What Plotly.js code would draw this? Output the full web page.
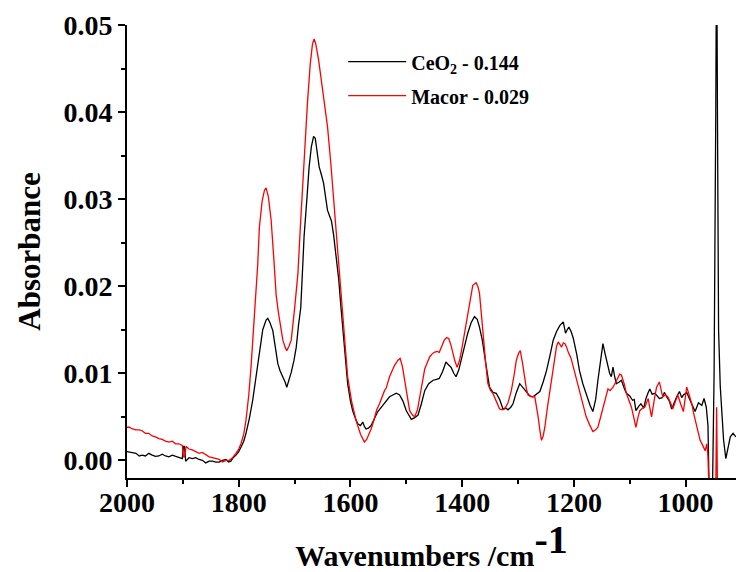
<!DOCTYPE html>
<html>
<head>
<meta charset="utf-8">
<script src="https://cdn.plot.ly/plotly-3.0.1.min.js"></script>
<style>html,body{margin:0;padding:0;background:#fff;}#chart{width:736px;height:572px;}</style>
</head>
<body>
<div id="chart"></div>
<script>
// CeO2 - 0.144 (black)
const ceo2Wn = [2000,1996,1990,1984,1978,1973,1967,1961,1955,1949,1943,1937,1931,1925,1919,1913,1907,1901,1899,1897,1895,1889,1883,1877,1871,1865,1859,1853,1847,1841,1835,1829,1823,1818,1814,1810,1805,1800,1796,1791,1787,1781,1775,1769,1763,1757,1751,1748,1744,1739,1734,1730,1726,1721,1717,1714,1710,1706,1701,1697,1693,1689,1686,1683,1678,1674,1670,1666,1663,1660,1656,1652,1648,1644,1641,1637,1634,1630,1626,1621,1617,1612,1605,1600,1596,1591,1587,1582,1578,1575,1572,1568,1563,1557,1551,1546,1542,1536,1530,1524,1518,1512,1506,1500,1494,1491,1485,1479,1473,1467,1460,1452,1446,1441,1435,1429,1425,1420,1415,1411,1406,1402,1396,1390,1384,1378,1373,1369,1364,1360,1355,1351,1345,1339,1333,1327,1322,1318,1313,1309,1303,1297,1291,1285,1279,1273,1267,1261,1255,1249,1243,1237,1231,1225,1219,1215,1212,1209,1205,1201,1195,1190,1184,1177,1171,1166,1161,1157,1152,1148,1144,1139,1136,1133,1130,1127,1124,1119,1115,1110,1106,1100,1095,1092,1089,1084,1080,1075,1071,1067,1064,1060,1055,1051,1047,1042,1038,1034,1029,1025,1020,1016,1011,1007,1004,998,992,987,983,977,971,967,963,960,958,952,949,946,944.5,943,941,938,935,932,928,924,920,915,912,910];
const ceo2Abs = [0.0010,0.00095,0.0009,0.0008,0.0005,0.0006,0.0005,0.0008,0.0006,0.00046,0.0005,0.0007,0.0005,0.0004,0.0006,0.00046,0.0004,0.0002,0.0016,0.0016,-0.0001,0.0003,0.0002,0.0003,0.0001,0.0,-0.0003,-0.0001,-0.0001,-0.0002,-0.0002,0.0,0.0001,-0.0002,-0.0001,0.0003,0.0006,0.0010,0.0015,0.0022,0.0031,0.0048,0.0069,0.0098,0.0126,0.0150,0.0161,0.0163,0.0158,0.0149,0.0128,0.0111,0.0103,0.0096,0.0090,0.0084,0.0092,0.0101,0.0115,0.0130,0.0155,0.0175,0.0215,0.0257,0.0300,0.0337,0.0360,0.0372,0.0370,0.0355,0.0337,0.0328,0.0318,0.0300,0.0287,0.0280,0.0275,0.0258,0.0238,0.0208,0.0176,0.0135,0.0088,0.0068,0.0057,0.0048,0.0042,0.0040,0.0044,0.0039,0.0036,0.0037,0.0040,0.0048,0.0056,0.0060,0.0063,0.0068,0.0073,0.0075,0.0077,0.0075,0.0068,0.0057,0.0050,0.0047,0.0049,0.0052,0.0065,0.0080,0.0088,0.0092,0.0093,0.0094,0.0102,0.0113,0.0110,0.0107,0.0100,0.0096,0.0104,0.0115,0.0130,0.0146,0.0158,0.0165,0.0162,0.0153,0.0138,0.0119,0.0100,0.0084,0.0078,0.0077,0.0070,0.0059,0.0060,0.0058,0.0061,0.0065,0.0078,0.0088,0.0083,0.0079,0.0074,0.0073,0.0076,0.0079,0.0090,0.0103,0.0120,0.0138,0.0148,0.0155,0.0159,0.0146,0.0150,0.0153,0.0148,0.0140,0.0122,0.0103,0.0088,0.0073,0.0063,0.0056,0.0070,0.0092,0.0118,0.0134,0.0122,0.0107,0.0100,0.0096,0.0107,0.0096,0.0088,0.0090,0.0092,0.0083,0.0077,0.0074,0.0069,0.0070,0.0057,0.0062,0.0065,0.0060,0.0071,0.0078,0.0082,0.0076,0.0077,0.0074,0.0071,0.0072,0.0078,0.0073,0.0068,0.0059,0.0068,0.0073,0.0079,0.0072,0.0075,0.0078,0.0069,0.0062,0.0056,0.0066,0.0063,0.0071,0.0061,0.0040,-0.0030,-0.0040,0.0100,0.0400,0.0620,0.0400,0.0150,0.0085,0.0050,0.0023,0.0002,0.0017,0.0027,0.0031,0.0029,0.0027];

// Macor - 0.029 (red)
const macorWn = [2000,1996,1990,1984,1978,1973,1967,1961,1955,1949,1943,1937,1931,1925,1919,1913,1907,1901,1899,1897,1894,1889,1883,1877,1871,1865,1859,1853,1847,1841,1835,1829,1823,1817,1811,1805,1800,1796,1791,1787,1782,1778,1775,1772,1770,1766,1763,1758,1754,1751,1747,1742,1737,1733,1729,1725,1721,1717,1714,1710,1706,1700,1694,1689,1683,1677,1672,1668,1665,1662,1657,1653,1647,1641,1635,1629,1621,1614,1605,1598,1590,1582,1575,1571,1567,1563,1558,1553,1548,1544,1539,1536,1530,1524,1521,1515,1511,1507,1503,1498,1494,1489,1485,1480,1476,1471,1467,1462,1458,1454,1450,1445,1441,1436,1432,1428,1424,1420,1417,1413,1409,1405,1402,1396,1390,1385,1381,1375,1372,1369,1365,1362,1358,1354,1349,1345,1339,1333,1328,1324,1318,1312,1307,1303,1299,1296,1292,1288,1285,1282,1276,1270,1267,1264,1261,1258,1255,1252,1248,1243,1238,1234,1231,1228,1225,1222,1219,1216,1213,1210,1205,1201,1195,1190,1184,1178,1172,1166,1161,1157,1152,1148,1143,1139,1135,1130,1125,1121,1118,1115,1110,1106,1101,1097,1093,1089,1085,1082,1077,1073,1070,1067,1064,1061,1056,1052,1047,1044,1041,1036,1032,1027,1023,1018,1014,1009,1004,1001,998,994,989,986,983,978,974,970,965,962,960,958,950,946,944.5,943,940,930,920,910];
const macorAbs = [0.0038,0.0038,0.0036,0.0035,0.0035,0.0034,0.0031,0.0031,0.0028,0.0027,0.0025,0.0024,0.0022,0.0021,0.0022,0.0019,0.0019,0.0017,0.0004,0.0004,0.0016,0.0013,0.0012,0.0010,0.0008,0.0009,0.0006,0.0004,0.0003,0.0002,0.0001,-0.0002,0.0,0.0,0.0003,0.0008,0.0013,0.0019,0.0030,0.0046,0.0075,0.0107,0.0135,0.0165,0.0176,0.0225,0.0268,0.0298,0.0310,0.0313,0.0303,0.0276,0.0230,0.0190,0.0170,0.0152,0.0138,0.0130,0.0126,0.0131,0.0138,0.0174,0.0215,0.0276,0.0345,0.0410,0.0455,0.0478,0.0484,0.0478,0.0460,0.0441,0.0412,0.0383,0.0340,0.0291,0.0230,0.0172,0.0096,0.0068,0.0046,0.0030,0.0021,0.0024,0.0030,0.0036,0.0046,0.0058,0.0065,0.0072,0.0080,0.0083,0.0096,0.0105,0.0109,0.0115,0.0117,0.0108,0.0092,0.0072,0.0057,0.0052,0.0050,0.0058,0.0073,0.0090,0.0105,0.0113,0.0119,0.0122,0.0124,0.0125,0.0124,0.0132,0.0138,0.0141,0.0140,0.0132,0.0124,0.0114,0.0107,0.0114,0.0123,0.0145,0.0169,0.0188,0.0201,0.0204,0.0200,0.0192,0.0168,0.0142,0.0112,0.0088,0.0080,0.0077,0.0068,0.0059,0.0058,0.0059,0.0066,0.0080,0.0098,0.0115,0.0123,0.0126,0.0112,0.0092,0.0082,0.0075,0.0073,0.0073,0.0063,0.0050,0.0035,0.0023,0.0028,0.0038,0.0058,0.0080,0.0103,0.0123,0.0131,0.0136,0.0132,0.0130,0.0135,0.0134,0.0130,0.0124,0.0117,0.0107,0.0093,0.0080,0.0065,0.0050,0.0041,0.0033,0.0035,0.0038,0.0050,0.0061,0.0072,0.0082,0.0080,0.0084,0.0090,0.0096,0.0099,0.0098,0.0088,0.0077,0.0068,0.0061,0.0050,0.0038,0.0050,0.0057,0.0060,0.0061,0.0066,0.0071,0.0060,0.0050,0.0070,0.0084,0.0090,0.0082,0.0073,0.0075,0.0073,0.0066,0.0059,0.0068,0.0075,0.0065,0.0056,0.0070,0.0084,0.0076,0.0065,0.0055,0.0046,0.0035,0.0023,0.0018,0.0011,0.0019,0.0005,-0.0040,-0.0040,-0.0030,0.0061,-0.0030,-0.0050,-0.0050,-0.0050,-0.0050];

const seriesNames = ['CeO<sub>2</sub> - 0.144', 'Macor - 0.029'];
const xTickVals = [2000,1800,1600,1400,1200,1000];
const yTickVals = [0.00,0.01,0.02,0.03,0.04,0.05];

const serif = 'Liberation Serif, Times New Roman, serif';

const traces = [
  {x: ceo2Wn, y: ceo2Abs, name: seriesNames[0], type: 'scatter', mode: 'lines',
   line: {color: '#000000', width: 1.3}, legendgroup: 'a'},
  {x: macorWn, y: macorAbs, name: seriesNames[1], type: 'scatter', mode: 'lines',
   line: {color: '#ff0000', width: 1.3}, legendgroup: 'b'}
];

const axisFont = {family: serif, size: 28, color: '#000', weight: 'bold'};

const layout = {
  width: 736, height: 572,
  margin: {l: 127, r: 0, t: 25, b: 94},
  paper_bgcolor: '#fff', plot_bgcolor: '#fff',
  showlegend: true,
  legend: {x: 0.355, y: 0.962, xanchor: 'left', yanchor: 'top',
    font: {family: serif, size: 20, color: '#000', weight: 'bold'},
    bgcolor: 'rgba(0,0,0,0)', itemwidth: 58, tracegroupgap: 5},
  xaxis: {
    range: [2000, 909.8], autorange: false,
    tickvals: xTickVals, ticktext: xTickVals.map(String),
    ticks: 'outside', ticklen: 7, tickwidth: 2, tickcolor: '#000',
    ticklabelstandoff: -9,
    minor: {dtick: 100, tick0: 0, ticks: 'outside', ticklen: 4, tickwidth: 2, tickcolor: '#000'},
    showline: true, linewidth: 2, linecolor: '#000', mirror: false,
    showgrid: false, zeroline: false,
    tickfont: axisFont,
    title: {text: 'Wavenumbers /cm<sup><span style="font-size:40px">-1</span></sup>', font: {family: serif, size: 30, color: '#000', weight: 'bold'}, standoff: 20},
    automargin: false
  },
  yaxis: {
    range: [-0.00203, 0.05], autorange: false,
    tickvals: yTickVals, ticktext: yTickVals.map(v => v.toFixed(2)),
    ticks: 'outside', ticklen: 7, tickwidth: 2, tickcolor: '#000',
    minor: {dtick: 0.005, tick0: 0, ticks: 'outside', ticklen: 4, tickwidth: 2, tickcolor: '#000'},
    showline: true, linewidth: 2, linecolor: '#000', mirror: false,
    showgrid: false, zeroline: false,
    tickfont: axisFont,
    title: {text: 'Absorbance', font: {family: serif, size: 31, color: '#000', weight: 'bold'}, standoff: 14},
    automargin: false
  }
};

Plotly.newPlot('chart', traces, layout, {displayModeBar: false, staticPlot: true});
</script>
</body>
</html>
